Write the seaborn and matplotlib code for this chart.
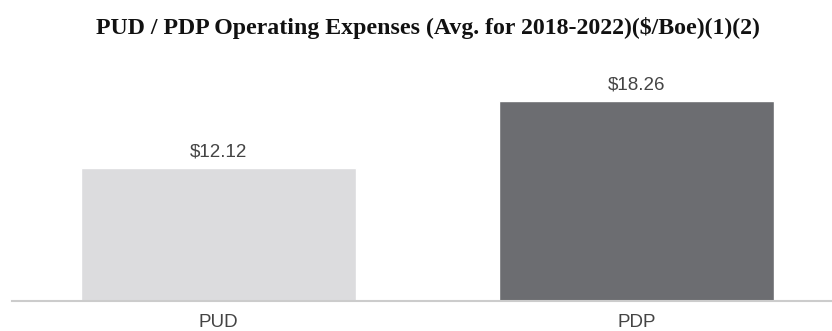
import matplotlib
matplotlib.use("Agg")
import matplotlib.pyplot as plt
import seaborn as sns
import pandas as pd

categories = ["PUD", "PDP"]
values = [12.12, 18.26]
value_labels = ["$12.12", "$18.26"]
colors = ["#dcdcde", "#6c6d71"]

sns.set_style("white")
plt.rcParams['font.family'] = ['Liberation Sans', 'DejaVu Sans']

W, H = 832, 331
fig = plt.figure(figsize=(W / 100, H / 100), dpi=100)
left_px, right_px, top_px, base_px = 12, 832, 60, 301
ax = fig.add_axes([left_px / W, (H - base_px) / H, (right_px - left_px) / W, (base_px - top_px) / H])

df = pd.DataFrame({"cat": categories, "val": values})
sns.barplot(data=df, x="cat", y="val", hue="cat", palette=colors, width=0.658,
            legend=False, ax=ax, saturation=1)

px_per_unit = (300.7 - 168) / 12.12
ax.set_ylim(0, (base_px - top_px) / px_per_unit)
ax.set_xlim(-0.494, 1.468)

for i, (v, lab) in enumerate(zip(values, value_labels)):
    ax.annotate(lab, (i, v), xytext=(0, 8.2), textcoords="offset points",
                ha="center", va="baseline", fontsize=13.5, color="#444444")

ax.set_xlabel("")
ax.set_ylabel("")
ax.set_yticks([])
ax.tick_params(axis="x", length=0, pad=9.5, labelsize=13.5, labelcolor="#444444")
for s in ["top", "right", "left"]:
    ax.spines[s].set_visible(False)
ax.spines["bottom"].set_color("#cccccc")
ax.spines["bottom"].set_linewidth(1.5)

fig.text(427.5 / W, 1 - 34 / H, "PUD / PDP Operating Expenses (Avg. for 2018-2022)($/Boe)(1)(2)",
         ha="center", va="baseline", fontsize=17.2, fontweight="bold",
         family=["Liberation Serif", "DejaVu Serif"], color="#111111")

fig.savefig("out.png", dpi=100)
